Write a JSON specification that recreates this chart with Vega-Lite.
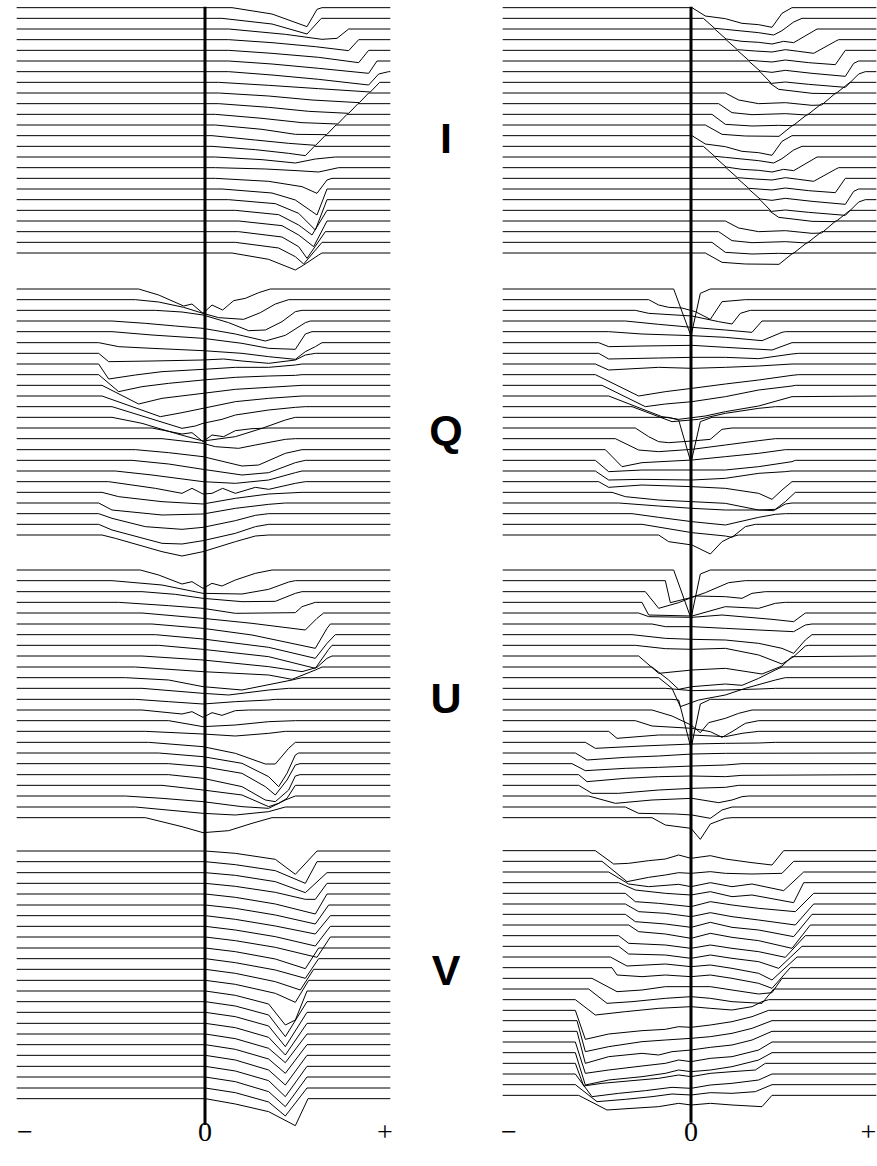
{
"$schema":"https://vega.github.io/schema/vega-lite/v6.json",
"padding":{"left":14,"top":0,"right":0,"bottom":0},
"spacing":113,
"bounds":"flush",
"background":"white",
"config":{"view":{"stroke":null}},
"datasets":{
"zero":[{"c":"L","x":0,"y":20,"y2":3375},{"c":"R","x":0,"y":20,"y2":3368}],
"ticks":[{"c":"L","t":"−","x":-540,"y":3398},{"c":"L","t":"0","x":0,"y":3398},{"c":"L","t":"+","x":540,"y":3398},{"c":"R","t":"−","x":-546,"y":3398},{"c":"R","t":"0","x":0,"y":3398},{"c":"R","t":"+","x":532,"y":3398}],
"stokes":[{"t":"I","x":723,"y":420},{"t":"Q","x":723,"y":1296},{"t":"U","x":723,"y":2100},{"t":"V","x":723,"y":2916}],
"prof":[
{"l":"LI0","x":-565,"y":23},{"l":"LI0","x":81,"y":23},{"l":"LI0","x":201,"y":42},{"l":"LI0","x":306,"y":80},{"l":"LI0","x":336,"y":28},{"l":"LI0","x":351,"y":23},{"l":"LI0","x":556,"y":23},
{"l":"LI1","x":-565,"y":55},{"l":"LI1","x":51,"y":55},{"l":"LI1","x":201,"y":72},{"l":"LI1","x":306,"y":102},{"l":"LI1","x":349,"y":55},{"l":"LI1","x":556,"y":55},
{"l":"LI2","x":-565,"y":87},{"l":"LI2","x":71,"y":87},{"l":"LI2","x":241,"y":103},{"l":"LI2","x":351,"y":118},{"l":"LI2","x":396,"y":115},{"l":"LI2","x":431,"y":87},{"l":"LI2","x":556,"y":87},
{"l":"LI3","x":-565,"y":119},{"l":"LI3","x":71,"y":119},{"l":"LI3","x":201,"y":128},{"l":"LI3","x":331,"y":140},{"l":"LI3","x":431,"y":152},{"l":"LI3","x":461,"y":119},{"l":"LI3","x":556,"y":119},
{"l":"LI4","x":-565,"y":151},{"l":"LI4","x":71,"y":151},{"l":"LI4","x":201,"y":160},{"l":"LI4","x":341,"y":172},{"l":"LI4","x":461,"y":188},{"l":"LI4","x":491,"y":151},{"l":"LI4","x":556,"y":151},
{"l":"LI5","x":-565,"y":183},{"l":"LI5","x":71,"y":183},{"l":"LI5","x":201,"y":192},{"l":"LI5","x":341,"y":205},{"l":"LI5","x":491,"y":220},{"l":"LI5","x":516,"y":183},{"l":"LI5","x":556,"y":183},
{"l":"LI6","x":-565,"y":215},{"l":"LI6","x":71,"y":215},{"l":"LI6","x":201,"y":225},{"l":"LI6","x":341,"y":238},{"l":"LI6","x":491,"y":255},{"l":"LI6","x":521,"y":222},{"l":"LI6","x":551,"y":215},{"l":"LI6","x":556,"y":215},
{"l":"LI7","x":-565,"y":247},{"l":"LI7","x":41,"y":247},{"l":"LI7","x":191,"y":256},{"l":"LI7","x":341,"y":266},{"l":"LI7","x":496,"y":276},{"l":"LI7","x":524,"y":247},{"l":"LI7","x":556,"y":247},
{"l":"LI8","x":-565,"y":279},{"l":"LI8","x":41,"y":279},{"l":"LI8","x":191,"y":288},{"l":"LI8","x":321,"y":300},{"l":"LI8","x":463,"y":308},{"l":"LI8","x":491,"y":279},{"l":"LI8","x":556,"y":279},
{"l":"LI9","x":-565,"y":311},{"l":"LI9","x":41,"y":311},{"l":"LI9","x":191,"y":322},{"l":"LI9","x":311,"y":334},{"l":"LI9","x":431,"y":340},{"l":"LI9","x":459,"y":311},{"l":"LI9","x":556,"y":311},
{"l":"LI10","x":-565,"y":343},{"l":"LI10","x":31,"y":343},{"l":"LI10","x":171,"y":355},{"l":"LI10","x":291,"y":368},{"l":"LI10","x":398,"y":372},{"l":"LI10","x":426,"y":343},{"l":"LI10","x":556,"y":343},
{"l":"LI11","x":-565,"y":375},{"l":"LI11","x":31,"y":375},{"l":"LI11","x":171,"y":388},{"l":"LI11","x":271,"y":403},{"l":"LI11","x":365,"y":404},{"l":"LI11","x":393,"y":375},{"l":"LI11","x":556,"y":375},
{"l":"LI12","x":-565,"y":407},{"l":"LI12","x":21,"y":407},{"l":"LI12","x":151,"y":420},{"l":"LI12","x":251,"y":430},{"l":"LI12","x":332,"y":436},{"l":"LI12","x":360,"y":407},{"l":"LI12","x":556,"y":407},
{"l":"LI13","x":-565,"y":439},{"l":"LI13","x":21,"y":439},{"l":"LI13","x":151,"y":449},{"l":"LI13","x":251,"y":460},{"l":"LI13","x":301,"y":467},{"l":"LI13","x":328,"y":439},{"l":"LI13","x":556,"y":439},
{"l":"LI14","x":-565,"y":471},{"l":"LI14","x":31,"y":471},{"l":"LI14","x":171,"y":479},{"l":"LI14","x":271,"y":489},{"l":"LI14","x":331,"y":477},{"l":"LI14","x":391,"y":471},{"l":"LI14","x":556,"y":471},
{"l":"LI15","x":-565,"y":503},{"l":"LI15","x":31,"y":503},{"l":"LI15","x":181,"y":507},{"l":"LI15","x":276,"y":512},{"l":"LI15","x":341,"y":516},{"l":"LI15","x":401,"y":503},{"l":"LI15","x":556,"y":503},
{"l":"LI16","x":-565,"y":535},{"l":"LI16","x":31,"y":535},{"l":"LI16","x":191,"y":544},{"l":"LI16","x":291,"y":560},{"l":"LI16","x":336,"y":580},{"l":"LI16","x":366,"y":540},{"l":"LI16","x":381,"y":535},{"l":"LI16","x":556,"y":535},
{"l":"LI17","x":-565,"y":567},{"l":"LI17","x":51,"y":567},{"l":"LI17","x":201,"y":579},{"l":"LI17","x":271,"y":600},{"l":"LI17","x":336,"y":645},{"l":"LI17","x":366,"y":567},{"l":"LI17","x":556,"y":567},
{"l":"LI18","x":-565,"y":599},{"l":"LI18","x":71,"y":599},{"l":"LI18","x":211,"y":611},{"l":"LI18","x":281,"y":640},{"l":"LI18","x":331,"y":690},{"l":"LI18","x":366,"y":599},{"l":"LI18","x":556,"y":599},
{"l":"LI19","x":-565,"y":631},{"l":"LI19","x":91,"y":631},{"l":"LI19","x":221,"y":644},{"l":"LI19","x":281,"y":675},{"l":"LI19","x":321,"y":705},{"l":"LI19","x":366,"y":631},{"l":"LI19","x":556,"y":631},
{"l":"LI20","x":-565,"y":663},{"l":"LI20","x":101,"y":663},{"l":"LI20","x":231,"y":677},{"l":"LI20","x":281,"y":705},{"l":"LI20","x":326,"y":740},{"l":"LI20","x":366,"y":663},{"l":"LI20","x":556,"y":663},
{"l":"LI21","x":-565,"y":695},{"l":"LI21","x":101,"y":695},{"l":"LI21","x":231,"y":711},{"l":"LI21","x":281,"y":740},{"l":"LI21","x":306,"y":775},{"l":"LI21","x":361,"y":695},{"l":"LI21","x":556,"y":695},
{"l":"LI22","x":-565,"y":727},{"l":"LI22","x":91,"y":727},{"l":"LI22","x":221,"y":744},{"l":"LI22","x":271,"y":770},{"l":"LI22","x":296,"y":792},{"l":"LI22","x":351,"y":727},{"l":"LI22","x":556,"y":727},
{"l":"LI23","x":-565,"y":759},{"l":"LI23","x":81,"y":759},{"l":"LI23","x":191,"y":778},{"l":"LI23","x":271,"y":810},{"l":"LI23","x":296,"y":795},{"l":"LI23","x":341,"y":765},{"l":"LI23","x":351,"y":759},{"l":"LI23","x":556,"y":759},

{"l":"RI0","x":-565,"y":23},{"l":"RI0","x":3,"y":23},{"l":"RI0","x":43,"y":48},{"l":"RI0","x":103,"y":56},{"l":"RI0","x":153,"y":70},{"l":"RI0","x":203,"y":74},{"l":"RI0","x":243,"y":82},{"l":"RI0","x":273,"y":40},{"l":"RI0","x":303,"y":23},{"l":"RI0","x":556,"y":23},
{"l":"RI1","x":-565,"y":55},{"l":"RI1","x":37,"y":55},{"l":"RI1","x":71,"y":85},{"l":"RI1","x":103,"y":88},{"l":"RI1","x":153,"y":93},{"l":"RI1","x":203,"y":98},{"l":"RI1","x":248,"y":105},{"l":"RI1","x":273,"y":92},{"l":"RI1","x":308,"y":66},{"l":"RI1","x":333,"y":55},{"l":"RI1","x":556,"y":55},
{"l":"RI2","x":-565,"y":87},{"l":"RI2","x":71,"y":87},{"l":"RI2","x":105,"y":117},{"l":"RI2","x":153,"y":124},{"l":"RI2","x":203,"y":127},{"l":"RI2","x":243,"y":132},{"l":"RI2","x":278,"y":124},{"l":"RI2","x":308,"y":128},{"l":"RI2","x":368,"y":93},{"l":"RI2","x":378,"y":87},{"l":"RI2","x":556,"y":87},
{"l":"RI3","x":-565,"y":119},{"l":"RI3","x":105,"y":119},{"l":"RI3","x":139,"y":149},{"l":"RI3","x":193,"y":153},{"l":"RI3","x":243,"y":156},{"l":"RI3","x":283,"y":149},{"l":"RI3","x":323,"y":154},{"l":"RI3","x":368,"y":160},{"l":"RI3","x":433,"y":124},{"l":"RI3","x":443,"y":119},{"l":"RI3","x":556,"y":119},
{"l":"RI4","x":-565,"y":151},{"l":"RI4","x":139,"y":151},{"l":"RI4","x":173,"y":181},{"l":"RI4","x":243,"y":186},{"l":"RI4","x":283,"y":180},{"l":"RI4","x":353,"y":188},{"l":"RI4","x":433,"y":194},{"l":"RI4","x":463,"y":151},{"l":"RI4","x":556,"y":151},
{"l":"RI5","x":-565,"y":183},{"l":"RI5","x":173,"y":183},{"l":"RI5","x":207,"y":213},{"l":"RI5","x":243,"y":217},{"l":"RI5","x":283,"y":211},{"l":"RI5","x":363,"y":220},{"l":"RI5","x":463,"y":229},{"l":"RI5","x":488,"y":190},{"l":"RI5","x":503,"y":183},{"l":"RI5","x":556,"y":183},
{"l":"RI6","x":-565,"y":215},{"l":"RI6","x":207,"y":215},{"l":"RI6","x":241,"y":250},{"l":"RI6","x":283,"y":246},{"l":"RI6","x":353,"y":253},{"l":"RI6","x":463,"y":262},{"l":"RI6","x":503,"y":222},{"l":"RI6","x":523,"y":215},{"l":"RI6","x":556,"y":215},
{"l":"RI7","x":-565,"y":247},{"l":"RI7","x":233,"y":247},{"l":"RI7","x":263,"y":268},{"l":"RI7","x":363,"y":280},{"l":"RI7","x":434,"y":281},{"l":"RI7","x":477,"y":247},{"l":"RI7","x":556,"y":247},
{"l":"RI8","x":-565,"y":279},{"l":"RI8","x":103,"y":279},{"l":"RI8","x":143,"y":300},{"l":"RI8","x":203,"y":311},{"l":"RI8","x":283,"y":308},{"l":"RI8","x":363,"y":316},{"l":"RI8","x":392,"y":315},{"l":"RI8","x":434,"y":279},{"l":"RI8","x":556,"y":279},
{"l":"RI9","x":-565,"y":311},{"l":"RI9","x":83,"y":311},{"l":"RI9","x":123,"y":338},{"l":"RI9","x":183,"y":344},{"l":"RI9","x":283,"y":341},{"l":"RI9","x":349,"y":345},{"l":"RI9","x":392,"y":311},{"l":"RI9","x":556,"y":311},
{"l":"RI10","x":-565,"y":343},{"l":"RI10","x":63,"y":343},{"l":"RI10","x":103,"y":373},{"l":"RI10","x":183,"y":378},{"l":"RI10","x":263,"y":376},{"l":"RI10","x":306,"y":377},{"l":"RI10","x":349,"y":343},{"l":"RI10","x":556,"y":343},
{"l":"RI11","x":-565,"y":375},{"l":"RI11","x":43,"y":375},{"l":"RI11","x":93,"y":403},{"l":"RI11","x":163,"y":408},{"l":"RI11","x":264,"y":409},{"l":"RI11","x":306,"y":375},{"l":"RI11","x":556,"y":375},
{"l":"RI12","x":-565,"y":407},{"l":"RI12","x":3,"y":407},{"l":"RI12","x":43,"y":432},{"l":"RI12","x":103,"y":440},{"l":"RI12","x":153,"y":454},{"l":"RI12","x":203,"y":458},{"l":"RI12","x":243,"y":466},{"l":"RI12","x":273,"y":424},{"l":"RI12","x":303,"y":407},{"l":"RI12","x":556,"y":407},
{"l":"RI13","x":-565,"y":439},{"l":"RI13","x":37,"y":439},{"l":"RI13","x":71,"y":469},{"l":"RI13","x":103,"y":472},{"l":"RI13","x":153,"y":477},{"l":"RI13","x":203,"y":482},{"l":"RI13","x":248,"y":489},{"l":"RI13","x":273,"y":476},{"l":"RI13","x":308,"y":450},{"l":"RI13","x":333,"y":439},{"l":"RI13","x":556,"y":439},
{"l":"RI14","x":-565,"y":471},{"l":"RI14","x":71,"y":471},{"l":"RI14","x":105,"y":501},{"l":"RI14","x":153,"y":508},{"l":"RI14","x":203,"y":511},{"l":"RI14","x":243,"y":516},{"l":"RI14","x":278,"y":508},{"l":"RI14","x":308,"y":512},{"l":"RI14","x":368,"y":477},{"l":"RI14","x":378,"y":471},{"l":"RI14","x":556,"y":471},
{"l":"RI15","x":-565,"y":503},{"l":"RI15","x":105,"y":503},{"l":"RI15","x":139,"y":533},{"l":"RI15","x":193,"y":537},{"l":"RI15","x":243,"y":540},{"l":"RI15","x":283,"y":533},{"l":"RI15","x":323,"y":538},{"l":"RI15","x":368,"y":544},{"l":"RI15","x":433,"y":508},{"l":"RI15","x":443,"y":503},{"l":"RI15","x":556,"y":503},
{"l":"RI16","x":-565,"y":535},{"l":"RI16","x":139,"y":535},{"l":"RI16","x":173,"y":565},{"l":"RI16","x":243,"y":570},{"l":"RI16","x":283,"y":564},{"l":"RI16","x":353,"y":572},{"l":"RI16","x":433,"y":578},{"l":"RI16","x":463,"y":535},{"l":"RI16","x":556,"y":535},
{"l":"RI17","x":-565,"y":567},{"l":"RI17","x":173,"y":567},{"l":"RI17","x":207,"y":597},{"l":"RI17","x":243,"y":601},{"l":"RI17","x":283,"y":595},{"l":"RI17","x":363,"y":604},{"l":"RI17","x":463,"y":613},{"l":"RI17","x":488,"y":574},{"l":"RI17","x":503,"y":567},{"l":"RI17","x":556,"y":567},
{"l":"RI18","x":-565,"y":599},{"l":"RI18","x":207,"y":599},{"l":"RI18","x":241,"y":634},{"l":"RI18","x":283,"y":630},{"l":"RI18","x":353,"y":637},{"l":"RI18","x":463,"y":646},{"l":"RI18","x":503,"y":606},{"l":"RI18","x":523,"y":599},{"l":"RI18","x":556,"y":599},
{"l":"RI19","x":-565,"y":631},{"l":"RI19","x":233,"y":631},{"l":"RI19","x":263,"y":652},{"l":"RI19","x":363,"y":664},{"l":"RI19","x":434,"y":665},{"l":"RI19","x":477,"y":631},{"l":"RI19","x":556,"y":631},
{"l":"RI20","x":-565,"y":663},{"l":"RI20","x":103,"y":663},{"l":"RI20","x":143,"y":684},{"l":"RI20","x":203,"y":695},{"l":"RI20","x":283,"y":692},{"l":"RI20","x":363,"y":700},{"l":"RI20","x":392,"y":699},{"l":"RI20","x":434,"y":663},{"l":"RI20","x":556,"y":663},
{"l":"RI21","x":-565,"y":695},{"l":"RI21","x":83,"y":695},{"l":"RI21","x":123,"y":722},{"l":"RI21","x":183,"y":728},{"l":"RI21","x":283,"y":725},{"l":"RI21","x":349,"y":729},{"l":"RI21","x":392,"y":695},{"l":"RI21","x":556,"y":695},
{"l":"RI22","x":-565,"y":727},{"l":"RI22","x":63,"y":727},{"l":"RI22","x":103,"y":757},{"l":"RI22","x":183,"y":762},{"l":"RI22","x":263,"y":760},{"l":"RI22","x":306,"y":761},{"l":"RI22","x":349,"y":727},{"l":"RI22","x":556,"y":727},
{"l":"RI23","x":-565,"y":759},{"l":"RI23","x":43,"y":759},{"l":"RI23","x":93,"y":787},{"l":"RI23","x":163,"y":792},{"l":"RI23","x":264,"y":793},{"l":"RI23","x":306,"y":759},{"l":"RI23","x":556,"y":759},

{"l":"LQ0","x":-565,"y":867},{"l":"LQ0","x":-199,"y":867},{"l":"LQ0","x":-139,"y":885},{"l":"LQ0","x":-64,"y":918},{"l":"LQ0","x":-39,"y":912},{"l":"LQ0","x":-6,"y":940},{"l":"LQ0","x":21,"y":915},{"l":"LQ0","x":53,"y":930},{"l":"LQ0","x":86,"y":902},{"l":"LQ0","x":121,"y":895},{"l":"LQ0","x":161,"y":878},{"l":"LQ0","x":196,"y":867},{"l":"LQ0","x":556,"y":867},
{"l":"LQ1","x":-565,"y":899},{"l":"LQ1","x":-209,"y":899},{"l":"LQ1","x":-139,"y":906},{"l":"LQ1","x":-64,"y":922},{"l":"LQ1","x":-6,"y":940},{"l":"LQ1","x":41,"y":953},{"l":"LQ1","x":116,"y":958},{"l":"LQ1","x":166,"y":938},{"l":"LQ1","x":211,"y":912},{"l":"LQ1","x":251,"y":899},{"l":"LQ1","x":556,"y":899},
{"l":"LQ2","x":-565,"y":931},{"l":"LQ2","x":-149,"y":931},{"l":"LQ2","x":-69,"y":936},{"l":"LQ2","x":-6,"y":945},{"l":"LQ2","x":71,"y":968},{"l":"LQ2","x":131,"y":992},{"l":"LQ2","x":181,"y":990},{"l":"LQ2","x":231,"y":965},{"l":"LQ2","x":271,"y":935},{"l":"LQ2","x":291,"y":931},{"l":"LQ2","x":556,"y":931},
{"l":"LQ3","x":-565,"y":963},{"l":"LQ3","x":-279,"y":963},{"l":"LQ3","x":-179,"y":970},{"l":"LQ3","x":-89,"y":978},{"l":"LQ3","x":-6,"y":985},{"l":"LQ3","x":91,"y":1002},{"l":"LQ3","x":181,"y":1023},{"l":"LQ3","x":241,"y":1006},{"l":"LQ3","x":301,"y":968},{"l":"LQ3","x":316,"y":963},{"l":"LQ3","x":556,"y":963},
{"l":"LQ4","x":-565,"y":995},{"l":"LQ4","x":-279,"y":995},{"l":"LQ4","x":-159,"y":1005},{"l":"LQ4","x":-6,"y":1015},{"l":"LQ4","x":111,"y":1030},{"l":"LQ4","x":191,"y":1045},{"l":"LQ4","x":271,"y":1048},{"l":"LQ4","x":301,"y":1002},{"l":"LQ4","x":321,"y":995},{"l":"LQ4","x":556,"y":995},
{"l":"LQ5","x":-565,"y":1028},{"l":"LQ5","x":-319,"y":1028},{"l":"LQ5","x":-259,"y":1040},{"l":"LQ5","x":-159,"y":1045},{"l":"LQ5","x":-6,"y":1052},{"l":"LQ5","x":111,"y":1060},{"l":"LQ5","x":191,"y":1070},{"l":"LQ5","x":271,"y":1078},{"l":"LQ5","x":301,"y":1055},{"l":"LQ5","x":331,"y":1040},{"l":"LQ5","x":351,"y":1028},{"l":"LQ5","x":556,"y":1028},
{"l":"LQ6","x":-565,"y":1060},{"l":"LQ6","x":-319,"y":1060},{"l":"LQ6","x":-289,"y":1085},{"l":"LQ6","x":-159,"y":1083},{"l":"LQ6","x":-9,"y":1080},{"l":"LQ6","x":56,"y":1077},{"l":"LQ6","x":111,"y":1083},{"l":"LQ6","x":191,"y":1090},{"l":"LQ6","x":271,"y":1080},{"l":"LQ6","x":301,"y":1065},{"l":"LQ6","x":331,"y":1060},{"l":"LQ6","x":556,"y":1060},
{"l":"LQ7","x":-565,"y":1092},{"l":"LQ7","x":-319,"y":1092},{"l":"LQ7","x":-289,"y":1137},{"l":"LQ7","x":-209,"y":1125},{"l":"LQ7","x":-129,"y":1115},{"l":"LQ7","x":-6,"y":1108},{"l":"LQ7","x":91,"y":1102},{"l":"LQ7","x":191,"y":1102},{"l":"LQ7","x":271,"y":1095},{"l":"LQ7","x":291,"y":1092},{"l":"LQ7","x":556,"y":1092},
{"l":"LQ8","x":-565,"y":1124},{"l":"LQ8","x":-319,"y":1124},{"l":"LQ8","x":-259,"y":1175},{"l":"LQ8","x":-189,"y":1160},{"l":"LQ8","x":-109,"y":1150},{"l":"LQ8","x":-6,"y":1140},{"l":"LQ8","x":91,"y":1132},{"l":"LQ8","x":191,"y":1128},{"l":"LQ8","x":271,"y":1126},{"l":"LQ8","x":291,"y":1124},{"l":"LQ8","x":556,"y":1124},
{"l":"LQ9","x":-565,"y":1156},{"l":"LQ9","x":-309,"y":1156},{"l":"LQ9","x":-199,"y":1212},{"l":"LQ9","x":-129,"y":1195},{"l":"LQ9","x":-6,"y":1180},{"l":"LQ9","x":91,"y":1168},{"l":"LQ9","x":191,"y":1162},{"l":"LQ9","x":291,"y":1156},{"l":"LQ9","x":556,"y":1156},
{"l":"LQ10","x":-565,"y":1188},{"l":"LQ10","x":-309,"y":1188},{"l":"LQ10","x":-134,"y":1250},{"l":"LQ10","x":-69,"y":1238},{"l":"LQ10","x":-6,"y":1225},{"l":"LQ10","x":91,"y":1205},{"l":"LQ10","x":191,"y":1195},{"l":"LQ10","x":291,"y":1188},{"l":"LQ10","x":556,"y":1188},
{"l":"LQ11","x":-565,"y":1220},{"l":"LQ11","x":-279,"y":1220},{"l":"LQ11","x":-69,"y":1285},{"l":"LQ11","x":-29,"y":1278},{"l":"LQ11","x":-6,"y":1270},{"l":"LQ11","x":51,"y":1258},{"l":"LQ11","x":91,"y":1245},{"l":"LQ11","x":191,"y":1230},{"l":"LQ11","x":271,"y":1222},{"l":"LQ11","x":301,"y":1220},{"l":"LQ11","x":556,"y":1220},
{"l":"LQ12","x":-565,"y":1252},{"l":"LQ12","x":-279,"y":1252},{"l":"LQ12","x":-189,"y":1270},{"l":"LQ12","x":-89,"y":1300},{"l":"LQ12","x":-6,"y":1323},{"l":"LQ12","x":91,"y":1310},{"l":"LQ12","x":171,"y":1285},{"l":"LQ12","x":241,"y":1260},{"l":"LQ12","x":271,"y":1252},{"l":"LQ12","x":556,"y":1252},
{"l":"LQ13","x":-565,"y":1284},{"l":"LQ13","x":-159,"y":1284},{"l":"LQ13","x":-69,"y":1302},{"l":"LQ13","x":-39,"y":1298},{"l":"LQ13","x":-6,"y":1325},{"l":"LQ13","x":21,"y":1305},{"l":"LQ13","x":56,"y":1310},{"l":"LQ13","x":91,"y":1292},{"l":"LQ13","x":141,"y":1286},{"l":"LQ13","x":191,"y":1284},{"l":"LQ13","x":556,"y":1284},
{"l":"LQ14","x":-565,"y":1316},{"l":"LQ14","x":-129,"y":1316},{"l":"LQ14","x":-6,"y":1330},{"l":"LQ14","x":31,"y":1340},{"l":"LQ14","x":101,"y":1345},{"l":"LQ14","x":151,"y":1335},{"l":"LQ14","x":241,"y":1318},{"l":"LQ14","x":271,"y":1316},{"l":"LQ14","x":556,"y":1316},
{"l":"LQ15","x":-565,"y":1349},{"l":"LQ15","x":-209,"y":1349},{"l":"LQ15","x":-109,"y":1358},{"l":"LQ15","x":-6,"y":1370},{"l":"LQ15","x":111,"y":1398},{"l":"LQ15","x":161,"y":1395},{"l":"LQ15","x":241,"y":1360},{"l":"LQ15","x":291,"y":1349},{"l":"LQ15","x":556,"y":1349},
{"l":"LQ16","x":-565,"y":1381},{"l":"LQ16","x":-219,"y":1381},{"l":"LQ16","x":-109,"y":1392},{"l":"LQ16","x":-6,"y":1408},{"l":"LQ16","x":111,"y":1425},{"l":"LQ16","x":191,"y":1418},{"l":"LQ16","x":271,"y":1388},{"l":"LQ16","x":301,"y":1381},{"l":"LQ16","x":556,"y":1381},
{"l":"LQ17","x":-565,"y":1413},{"l":"LQ17","x":-269,"y":1413},{"l":"LQ17","x":-159,"y":1425},{"l":"LQ17","x":-6,"y":1445},{"l":"LQ17","x":91,"y":1450},{"l":"LQ17","x":191,"y":1440},{"l":"LQ17","x":271,"y":1418},{"l":"LQ17","x":291,"y":1413},{"l":"LQ17","x":556,"y":1413},
{"l":"LQ18","x":-565,"y":1445},{"l":"LQ18","x":-289,"y":1445},{"l":"LQ18","x":-149,"y":1465},{"l":"LQ18","x":-69,"y":1480},{"l":"LQ18","x":-39,"y":1465},{"l":"LQ18","x":-6,"y":1482},{"l":"LQ18","x":21,"y":1480},{"l":"LQ18","x":53,"y":1465},{"l":"LQ18","x":91,"y":1480},{"l":"LQ18","x":151,"y":1462},{"l":"LQ18","x":191,"y":1468},{"l":"LQ18","x":271,"y":1450},{"l":"LQ18","x":301,"y":1445},{"l":"LQ18","x":556,"y":1445},
{"l":"LQ19","x":-565,"y":1477},{"l":"LQ19","x":-309,"y":1477},{"l":"LQ19","x":-259,"y":1490},{"l":"LQ19","x":-129,"y":1505},{"l":"LQ19","x":-6,"y":1512},{"l":"LQ19","x":91,"y":1495},{"l":"LQ19","x":191,"y":1482},{"l":"LQ19","x":291,"y":1477},{"l":"LQ19","x":556,"y":1477},
{"l":"LQ20","x":-565,"y":1509},{"l":"LQ20","x":-319,"y":1509},{"l":"LQ20","x":-279,"y":1530},{"l":"LQ20","x":-129,"y":1545},{"l":"LQ20","x":-6,"y":1542},{"l":"LQ20","x":91,"y":1525},{"l":"LQ20","x":191,"y":1513},{"l":"LQ20","x":241,"y":1509},{"l":"LQ20","x":556,"y":1509},
{"l":"LQ21","x":-565,"y":1541},{"l":"LQ21","x":-319,"y":1541},{"l":"LQ21","x":-279,"y":1555},{"l":"LQ21","x":-179,"y":1580},{"l":"LQ21","x":-69,"y":1588},{"l":"LQ21","x":-6,"y":1582},{"l":"LQ21","x":91,"y":1562},{"l":"LQ21","x":151,"y":1546},{"l":"LQ21","x":191,"y":1541},{"l":"LQ21","x":556,"y":1541},
{"l":"LQ22","x":-565,"y":1573},{"l":"LQ22","x":-319,"y":1573},{"l":"LQ22","x":-279,"y":1590},{"l":"LQ22","x":-129,"y":1630},{"l":"LQ22","x":-69,"y":1632},{"l":"LQ22","x":-6,"y":1622},{"l":"LQ22","x":91,"y":1600},{"l":"LQ22","x":151,"y":1580},{"l":"LQ22","x":191,"y":1573},{"l":"LQ22","x":556,"y":1573},
{"l":"LQ23","x":-565,"y":1605},{"l":"LQ23","x":-309,"y":1605},{"l":"LQ23","x":-269,"y":1615},{"l":"LQ23","x":-129,"y":1655},{"l":"LQ23","x":-69,"y":1668},{"l":"LQ23","x":-6,"y":1655},{"l":"LQ23","x":91,"y":1625},{"l":"LQ23","x":151,"y":1608},{"l":"LQ23","x":191,"y":1605},{"l":"LQ23","x":556,"y":1605},

{"l":"RQ0","x":-565,"y":867},{"l":"RQ0","x":-52,"y":867},{"l":"RQ0","x":0,"y":1008},{"l":"RQ0","x":28,"y":880},{"l":"RQ0","x":58,"y":867},{"l":"RQ0","x":556,"y":867},
{"l":"RQ1","x":-565,"y":899},{"l":"RQ1","x":-127,"y":899},{"l":"RQ1","x":-97,"y":915},{"l":"RQ1","x":-67,"y":922},{"l":"RQ1","x":-27,"y":924},{"l":"RQ1","x":13,"y":935},{"l":"RQ1","x":58,"y":958},{"l":"RQ1","x":93,"y":905},{"l":"RQ1","x":163,"y":899},{"l":"RQ1","x":556,"y":899},
{"l":"RQ2","x":-565,"y":931},{"l":"RQ2","x":-167,"y":931},{"l":"RQ2","x":-127,"y":940},{"l":"RQ2","x":3,"y":948},{"l":"RQ2","x":83,"y":965},{"l":"RQ2","x":123,"y":972},{"l":"RQ2","x":148,"y":940},{"l":"RQ2","x":178,"y":931},{"l":"RQ2","x":556,"y":931},
{"l":"RQ3","x":-565,"y":963},{"l":"RQ3","x":-197,"y":963},{"l":"RQ3","x":-97,"y":973},{"l":"RQ3","x":3,"y":982},{"l":"RQ3","x":103,"y":990},{"l":"RQ3","x":183,"y":997},{"l":"RQ3","x":213,"y":963},{"l":"RQ3","x":556,"y":963},
{"l":"RQ4","x":-565,"y":995},{"l":"RQ4","x":-247,"y":995},{"l":"RQ4","x":-147,"y":1002},{"l":"RQ4","x":3,"y":1007},{"l":"RQ4","x":103,"y":1012},{"l":"RQ4","x":213,"y":1022},{"l":"RQ4","x":273,"y":997},{"l":"RQ4","x":283,"y":995},{"l":"RQ4","x":556,"y":995},
{"l":"RQ5","x":-565,"y":1028},{"l":"RQ5","x":-277,"y":1028},{"l":"RQ5","x":-247,"y":1040},{"l":"RQ5","x":-147,"y":1038},{"l":"RQ5","x":3,"y":1036},{"l":"RQ5","x":103,"y":1042},{"l":"RQ5","x":243,"y":1050},{"l":"RQ5","x":303,"y":1028},{"l":"RQ5","x":556,"y":1028},
{"l":"RQ6","x":-565,"y":1060},{"l":"RQ6","x":-277,"y":1060},{"l":"RQ6","x":-247,"y":1077},{"l":"RQ6","x":-97,"y":1074},{"l":"RQ6","x":3,"y":1072},{"l":"RQ6","x":103,"y":1072},{"l":"RQ6","x":203,"y":1076},{"l":"RQ6","x":303,"y":1062},{"l":"RQ6","x":323,"y":1060},{"l":"RQ6","x":556,"y":1060},
{"l":"RQ7","x":-565,"y":1092},{"l":"RQ7","x":-287,"y":1092},{"l":"RQ7","x":-247,"y":1110},{"l":"RQ7","x":-97,"y":1102},{"l":"RQ7","x":3,"y":1105},{"l":"RQ7","x":103,"y":1102},{"l":"RQ7","x":203,"y":1098},{"l":"RQ7","x":303,"y":1092},{"l":"RQ7","x":556,"y":1092},
{"l":"RQ8","x":-565,"y":1124},{"l":"RQ8","x":-287,"y":1124},{"l":"RQ8","x":-157,"y":1188},{"l":"RQ8","x":-77,"y":1175},{"l":"RQ8","x":3,"y":1165},{"l":"RQ8","x":103,"y":1152},{"l":"RQ8","x":203,"y":1140},{"l":"RQ8","x":303,"y":1126},{"l":"RQ8","x":323,"y":1124},{"l":"RQ8","x":556,"y":1124},
{"l":"RQ9","x":-565,"y":1156},{"l":"RQ9","x":-267,"y":1156},{"l":"RQ9","x":-137,"y":1220},{"l":"RQ9","x":-77,"y":1212},{"l":"RQ9","x":3,"y":1205},{"l":"RQ9","x":103,"y":1190},{"l":"RQ9","x":203,"y":1170},{"l":"RQ9","x":303,"y":1158},{"l":"RQ9","x":313,"y":1156},{"l":"RQ9","x":556,"y":1156},
{"l":"RQ10","x":-565,"y":1188},{"l":"RQ10","x":-247,"y":1188},{"l":"RQ10","x":-87,"y":1250},{"l":"RQ10","x":-37,"y":1258},{"l":"RQ10","x":43,"y":1248},{"l":"RQ10","x":103,"y":1235},{"l":"RQ10","x":203,"y":1218},{"l":"RQ10","x":303,"y":1190},{"l":"RQ10","x":556,"y":1188},
{"l":"RQ11","x":-565,"y":1220},{"l":"RQ11","x":-177,"y":1220},{"l":"RQ11","x":-57,"y":1265},{"l":"RQ11","x":23,"y":1258},{"l":"RQ11","x":103,"y":1240},{"l":"RQ11","x":203,"y":1225},{"l":"RQ11","x":253,"y":1220},{"l":"RQ11","x":556,"y":1220},
{"l":"RQ12","x":-565,"y":1252},{"l":"RQ12","x":-67,"y":1252},{"l":"RQ12","x":-37,"y":1260},{"l":"RQ12","x":0,"y":1388},{"l":"RQ12","x":28,"y":1265},{"l":"RQ12","x":63,"y":1252},{"l":"RQ12","x":556,"y":1252},
{"l":"RQ13","x":-565,"y":1284},{"l":"RQ13","x":-167,"y":1284},{"l":"RQ13","x":-127,"y":1310},{"l":"RQ13","x":-97,"y":1325},{"l":"RQ13","x":-67,"y":1328},{"l":"RQ13","x":3,"y":1323},{"l":"RQ13","x":58,"y":1318},{"l":"RQ13","x":93,"y":1288},{"l":"RQ13","x":123,"y":1284},{"l":"RQ13","x":556,"y":1284},
{"l":"RQ14","x":-565,"y":1316},{"l":"RQ14","x":-227,"y":1316},{"l":"RQ14","x":-157,"y":1350},{"l":"RQ14","x":-97,"y":1355},{"l":"RQ14","x":3,"y":1348},{"l":"RQ14","x":103,"y":1335},{"l":"RQ14","x":203,"y":1322},{"l":"RQ14","x":253,"y":1316},{"l":"RQ14","x":556,"y":1316},
{"l":"RQ15","x":-565,"y":1349},{"l":"RQ15","x":-257,"y":1349},{"l":"RQ15","x":-207,"y":1400},{"l":"RQ15","x":-147,"y":1388},{"l":"RQ15","x":3,"y":1380},{"l":"RQ15","x":103,"y":1370},{"l":"RQ15","x":203,"y":1360},{"l":"RQ15","x":283,"y":1349},{"l":"RQ15","x":556,"y":1349},
{"l":"RQ16","x":-565,"y":1381},{"l":"RQ16","x":-287,"y":1381},{"l":"RQ16","x":-247,"y":1415},{"l":"RQ16","x":-147,"y":1410},{"l":"RQ16","x":3,"y":1410},{"l":"RQ16","x":103,"y":1410},{"l":"RQ16","x":203,"y":1400},{"l":"RQ16","x":303,"y":1385},{"l":"RQ16","x":313,"y":1381},{"l":"RQ16","x":556,"y":1381},
{"l":"RQ17","x":-565,"y":1413},{"l":"RQ17","x":-287,"y":1413},{"l":"RQ17","x":-247,"y":1440},{"l":"RQ17","x":-147,"y":1438},{"l":"RQ17","x":3,"y":1440},{"l":"RQ17","x":103,"y":1435},{"l":"RQ17","x":203,"y":1420},{"l":"RQ17","x":283,"y":1415},{"l":"RQ17","x":300,"y":1413},{"l":"RQ17","x":556,"y":1413},
{"l":"RQ18","x":-565,"y":1445},{"l":"RQ18","x":-277,"y":1445},{"l":"RQ18","x":-247,"y":1462},{"l":"RQ18","x":-147,"y":1455},{"l":"RQ18","x":3,"y":1460},{"l":"RQ18","x":103,"y":1465},{"l":"RQ18","x":203,"y":1480},{"l":"RQ18","x":243,"y":1498},{"l":"RQ18","x":273,"y":1470},{"l":"RQ18","x":303,"y":1445},{"l":"RQ18","x":556,"y":1445},
{"l":"RQ19","x":-565,"y":1477},{"l":"RQ19","x":-237,"y":1477},{"l":"RQ19","x":-197,"y":1490},{"l":"RQ19","x":-97,"y":1500},{"l":"RQ19","x":3,"y":1505},{"l":"RQ19","x":103,"y":1510},{"l":"RQ19","x":203,"y":1530},{"l":"RQ19","x":253,"y":1528},{"l":"RQ19","x":283,"y":1505},{"l":"RQ19","x":313,"y":1477},{"l":"RQ19","x":556,"y":1477},
{"l":"RQ20","x":-565,"y":1509},{"l":"RQ20","x":-217,"y":1509},{"l":"RQ20","x":-97,"y":1518},{"l":"RQ20","x":3,"y":1525},{"l":"RQ20","x":103,"y":1530},{"l":"RQ20","x":203,"y":1530},{"l":"RQ20","x":248,"y":1532},{"l":"RQ20","x":283,"y":1512},{"l":"RQ20","x":303,"y":1509},{"l":"RQ20","x":556,"y":1509},
{"l":"RQ21","x":-565,"y":1541},{"l":"RQ21","x":-177,"y":1541},{"l":"RQ21","x":-97,"y":1552},{"l":"RQ21","x":3,"y":1565},{"l":"RQ21","x":103,"y":1575},{"l":"RQ21","x":203,"y":1552},{"l":"RQ21","x":253,"y":1543},{"l":"RQ21","x":283,"y":1541},{"l":"RQ21","x":556,"y":1541},
{"l":"RQ22","x":-565,"y":1573},{"l":"RQ22","x":-147,"y":1573},{"l":"RQ22","x":3,"y":1598},{"l":"RQ22","x":103,"y":1608},{"l":"RQ22","x":123,"y":1612},{"l":"RQ22","x":163,"y":1580},{"l":"RQ22","x":193,"y":1573},{"l":"RQ22","x":556,"y":1573},
{"l":"RQ23","x":-565,"y":1605},{"l":"RQ23","x":-97,"y":1605},{"l":"RQ23","x":-67,"y":1625},{"l":"RQ23","x":3,"y":1635},{"l":"RQ23","x":58,"y":1662},{"l":"RQ23","x":93,"y":1625},{"l":"RQ23","x":123,"y":1610},{"l":"RQ23","x":143,"y":1605},{"l":"RQ23","x":556,"y":1605},

{"l":"LU0","x":-565,"y":1710},{"l":"LU0","x":-194,"y":1710},{"l":"LU0","x":-139,"y":1725},{"l":"LU0","x":-69,"y":1752},{"l":"LU0","x":-39,"y":1745},{"l":"LU0","x":-6,"y":1765},{"l":"LU0","x":21,"y":1750},{"l":"LU0","x":51,"y":1758},{"l":"LU0","x":91,"y":1740},{"l":"LU0","x":151,"y":1720},{"l":"LU0","x":201,"y":1710},{"l":"LU0","x":556,"y":1710},
{"l":"LU1","x":-565,"y":1742},{"l":"LU1","x":-279,"y":1742},{"l":"LU1","x":-129,"y":1755},{"l":"LU1","x":-6,"y":1780},{"l":"LU1","x":111,"y":1782},{"l":"LU1","x":191,"y":1768},{"l":"LU1","x":251,"y":1746},{"l":"LU1","x":271,"y":1742},{"l":"LU1","x":556,"y":1742},
{"l":"LU2","x":-565,"y":1775},{"l":"LU2","x":-189,"y":1775},{"l":"LU2","x":-89,"y":1783},{"l":"LU2","x":-6,"y":1795},{"l":"LU2","x":111,"y":1805},{"l":"LU2","x":211,"y":1804},{"l":"LU2","x":271,"y":1780},{"l":"LU2","x":291,"y":1775},{"l":"LU2","x":556,"y":1775},
{"l":"LU3","x":-565,"y":1807},{"l":"LU3","x":-259,"y":1807},{"l":"LU3","x":-109,"y":1817},{"l":"LU3","x":-6,"y":1825},{"l":"LU3","x":91,"y":1840},{"l":"LU3","x":271,"y":1838},{"l":"LU3","x":291,"y":1820},{"l":"LU3","x":331,"y":1807},{"l":"LU3","x":556,"y":1807},
{"l":"LU4","x":-565,"y":1839},{"l":"LU4","x":-189,"y":1839},{"l":"LU4","x":-6,"y":1855},{"l":"LU4","x":141,"y":1870},{"l":"LU4","x":301,"y":1890},{"l":"LU4","x":336,"y":1855},{"l":"LU4","x":356,"y":1839},{"l":"LU4","x":556,"y":1839},
{"l":"LU5","x":-565,"y":1872},{"l":"LU5","x":-159,"y":1872},{"l":"LU5","x":-6,"y":1885},{"l":"LU5","x":141,"y":1905},{"l":"LU5","x":331,"y":1945},{"l":"LU5","x":366,"y":1885},{"l":"LU5","x":376,"y":1872},{"l":"LU5","x":556,"y":1872},
{"l":"LU6","x":-565,"y":1904},{"l":"LU6","x":-149,"y":1904},{"l":"LU6","x":-6,"y":1917},{"l":"LU6","x":191,"y":1942},{"l":"LU6","x":331,"y":1975},{"l":"LU6","x":366,"y":1930},{"l":"LU6","x":391,"y":1904},{"l":"LU6","x":556,"y":1904},
{"l":"LU7","x":-565,"y":1936},{"l":"LU7","x":-139,"y":1936},{"l":"LU7","x":-6,"y":1948},{"l":"LU7","x":191,"y":1970},{"l":"LU7","x":331,"y":2005},{"l":"LU7","x":371,"y":1948},{"l":"LU7","x":381,"y":1936},{"l":"LU7","x":556,"y":1936},
{"l":"LU8","x":-565,"y":1968},{"l":"LU8","x":-189,"y":1968},{"l":"LU8","x":-6,"y":1980},{"l":"LU8","x":191,"y":2000},{"l":"LU8","x":291,"y":2015},{"l":"LU8","x":336,"y":2002},{"l":"LU8","x":366,"y":1975},{"l":"LU8","x":381,"y":1968},{"l":"LU8","x":556,"y":1968},
{"l":"LU9","x":-565,"y":2001},{"l":"LU9","x":-209,"y":2001},{"l":"LU9","x":-6,"y":2015},{"l":"LU9","x":191,"y":2025},{"l":"LU9","x":261,"y":2038},{"l":"LU9","x":331,"y":2010},{"l":"LU9","x":351,"y":2001},{"l":"LU9","x":556,"y":2001},
{"l":"LU10","x":-565,"y":2033},{"l":"LU10","x":-239,"y":2033},{"l":"LU10","x":-109,"y":2040},{"l":"LU10","x":-6,"y":2060},{"l":"LU10","x":111,"y":2070},{"l":"LU10","x":261,"y":2040},{"l":"LU10","x":291,"y":2033},{"l":"LU10","x":556,"y":2033},
{"l":"LU11","x":-565,"y":2065},{"l":"LU11","x":-189,"y":2065},{"l":"LU11","x":-6,"y":2080},{"l":"LU11","x":71,"y":2085},{"l":"LU11","x":191,"y":2070},{"l":"LU11","x":251,"y":2065},{"l":"LU11","x":556,"y":2065},
{"l":"LU12","x":-565,"y":2098},{"l":"LU12","x":-209,"y":2098},{"l":"LU12","x":-109,"y":2105},{"l":"LU12","x":-6,"y":2112},{"l":"LU12","x":91,"y":2105},{"l":"LU12","x":191,"y":2100},{"l":"LU12","x":211,"y":2098},{"l":"LU12","x":556,"y":2098},
{"l":"LU13","x":-565,"y":2130},{"l":"LU13","x":-189,"y":2130},{"l":"LU13","x":-69,"y":2142},{"l":"LU13","x":-39,"y":2135},{"l":"LU13","x":-6,"y":2152},{"l":"LU13","x":21,"y":2138},{"l":"LU13","x":51,"y":2146},{"l":"LU13","x":91,"y":2132},{"l":"LU13","x":131,"y":2130},{"l":"LU13","x":556,"y":2130},
{"l":"LU14","x":-565,"y":2162},{"l":"LU14","x":-109,"y":2162},{"l":"LU14","x":-6,"y":2180},{"l":"LU14","x":91,"y":2175},{"l":"LU14","x":191,"y":2165},{"l":"LU14","x":271,"y":2162},{"l":"LU14","x":556,"y":2162},
{"l":"LU15","x":-565,"y":2194},{"l":"LU15","x":-179,"y":2194},{"l":"LU15","x":-6,"y":2202},{"l":"LU15","x":91,"y":2208},{"l":"LU15","x":191,"y":2200},{"l":"LU15","x":241,"y":2194},{"l":"LU15","x":556,"y":2194},
{"l":"LU16","x":-565,"y":2227},{"l":"LU16","x":-169,"y":2227},{"l":"LU16","x":-6,"y":2240},{"l":"LU16","x":91,"y":2260},{"l":"LU16","x":181,"y":2292},{"l":"LU16","x":211,"y":2292},{"l":"LU16","x":251,"y":2245},{"l":"LU16","x":271,"y":2227},{"l":"LU16","x":556,"y":2227},
{"l":"LU17","x":-565,"y":2259},{"l":"LU17","x":-139,"y":2259},{"l":"LU17","x":-6,"y":2270},{"l":"LU17","x":111,"y":2290},{"l":"LU17","x":191,"y":2330},{"l":"LU17","x":221,"y":2360},{"l":"LU17","x":246,"y":2320},{"l":"LU17","x":271,"y":2265},{"l":"LU17","x":281,"y":2259},{"l":"LU17","x":556,"y":2259},
{"l":"LU18","x":-565,"y":2291},{"l":"LU18","x":-109,"y":2291},{"l":"LU18","x":-6,"y":2300},{"l":"LU18","x":111,"y":2320},{"l":"LU18","x":181,"y":2360},{"l":"LU18","x":211,"y":2385},{"l":"LU18","x":246,"y":2340},{"l":"LU18","x":271,"y":2295},{"l":"LU18","x":285,"y":2291},{"l":"LU18","x":556,"y":2291},
{"l":"LU19","x":-565,"y":2324},{"l":"LU19","x":-109,"y":2324},{"l":"LU19","x":-6,"y":2335},{"l":"LU19","x":111,"y":2360},{"l":"LU19","x":181,"y":2400},{"l":"LU19","x":211,"y":2405},{"l":"LU19","x":251,"y":2370},{"l":"LU19","x":271,"y":2328},{"l":"LU19","x":285,"y":2324},{"l":"LU19","x":556,"y":2324},
{"l":"LU20","x":-565,"y":2356},{"l":"LU20","x":-129,"y":2356},{"l":"LU20","x":-6,"y":2370},{"l":"LU20","x":111,"y":2385},{"l":"LU20","x":191,"y":2420},{"l":"LU20","x":221,"y":2410},{"l":"LU20","x":246,"y":2395},{"l":"LU20","x":271,"y":2356},{"l":"LU20","x":556,"y":2356},
{"l":"LU21","x":-565,"y":2388},{"l":"LU21","x":-239,"y":2388},{"l":"LU21","x":-129,"y":2395},{"l":"LU21","x":-6,"y":2405},{"l":"LU21","x":111,"y":2420},{"l":"LU21","x":191,"y":2425},{"l":"LU21","x":241,"y":2400},{"l":"LU21","x":271,"y":2388},{"l":"LU21","x":556,"y":2388},
{"l":"LU22","x":-565,"y":2421},{"l":"LU22","x":-209,"y":2421},{"l":"LU22","x":-6,"y":2440},{"l":"LU22","x":91,"y":2445},{"l":"LU22","x":191,"y":2435},{"l":"LU22","x":241,"y":2421},{"l":"LU22","x":556,"y":2421},
{"l":"LU23","x":-565,"y":2453},{"l":"LU23","x":-179,"y":2453},{"l":"LU23","x":-69,"y":2480},{"l":"LU23","x":-6,"y":2498},{"l":"LU23","x":71,"y":2492},{"l":"LU23","x":141,"y":2470},{"l":"LU23","x":201,"y":2453},{"l":"LU23","x":556,"y":2453},

{"l":"RU0","x":-565,"y":1710},{"l":"RU0","x":-52,"y":1710},{"l":"RU0","x":0,"y":1855},{"l":"RU0","x":28,"y":1722},{"l":"RU0","x":58,"y":1710},{"l":"RU0","x":556,"y":1710},
{"l":"RU1","x":-565,"y":1742},{"l":"RU1","x":-77,"y":1742},{"l":"RU1","x":-62,"y":1808},{"l":"RU1","x":3,"y":1792},{"l":"RU1","x":43,"y":1778},{"l":"RU1","x":113,"y":1748},{"l":"RU1","x":163,"y":1742},{"l":"RU1","x":556,"y":1742},
{"l":"RU2","x":-565,"y":1775},{"l":"RU2","x":-137,"y":1775},{"l":"RU2","x":-97,"y":1825},{"l":"RU2","x":-37,"y":1808},{"l":"RU2","x":13,"y":1788},{"l":"RU2","x":103,"y":1790},{"l":"RU2","x":153,"y":1795},{"l":"RU2","x":183,"y":1780},{"l":"RU2","x":223,"y":1775},{"l":"RU2","x":556,"y":1775},
{"l":"RU3","x":-565,"y":1807},{"l":"RU3","x":-147,"y":1807},{"l":"RU3","x":-127,"y":1845},{"l":"RU3","x":3,"y":1848},{"l":"RU3","x":103,"y":1820},{"l":"RU3","x":203,"y":1825},{"l":"RU3","x":253,"y":1810},{"l":"RU3","x":283,"y":1807},{"l":"RU3","x":556,"y":1807},
{"l":"RU4","x":-565,"y":1839},{"l":"RU4","x":-157,"y":1839},{"l":"RU4","x":-127,"y":1850},{"l":"RU4","x":3,"y":1852},{"l":"RU4","x":93,"y":1845},{"l":"RU4","x":243,"y":1858},{"l":"RU4","x":308,"y":1865},{"l":"RU4","x":343,"y":1839},{"l":"RU4","x":556,"y":1839},
{"l":"RU5","x":-565,"y":1872},{"l":"RU5","x":-117,"y":1872},{"l":"RU5","x":-77,"y":1880},{"l":"RU5","x":3,"y":1880},{"l":"RU5","x":103,"y":1885},{"l":"RU5","x":203,"y":1890},{"l":"RU5","x":308,"y":1895},{"l":"RU5","x":343,"y":1875},{"l":"RU5","x":363,"y":1872},{"l":"RU5","x":556,"y":1872},
{"l":"RU6","x":-565,"y":1904},{"l":"RU6","x":-177,"y":1904},{"l":"RU6","x":-77,"y":1915},{"l":"RU6","x":3,"y":1918},{"l":"RU6","x":103,"y":1920},{"l":"RU6","x":203,"y":1930},{"l":"RU6","x":273,"y":1945},{"l":"RU6","x":308,"y":1960},{"l":"RU6","x":343,"y":1920},{"l":"RU6","x":363,"y":1904},{"l":"RU6","x":556,"y":1904},
{"l":"RU7","x":-565,"y":1936},{"l":"RU7","x":-167,"y":1936},{"l":"RU7","x":-77,"y":1946},{"l":"RU7","x":3,"y":1948},{"l":"RU7","x":103,"y":1945},{"l":"RU7","x":203,"y":1965},{"l":"RU7","x":273,"y":1992},{"l":"RU7","x":308,"y":1970},{"l":"RU7","x":343,"y":1938},{"l":"RU7","x":353,"y":1936},{"l":"RU7","x":556,"y":1936},
{"l":"RU8","x":-565,"y":1968},{"l":"RU8","x":-157,"y":1968},{"l":"RU8","x":-97,"y":2020},{"l":"RU8","x":3,"y":2010},{"l":"RU8","x":103,"y":2005},{"l":"RU8","x":213,"y":2022},{"l":"RU8","x":273,"y":1998},{"l":"RU8","x":303,"y":1970},{"l":"RU8","x":556,"y":1968},
{"l":"RU9","x":-565,"y":2001},{"l":"RU9","x":-117,"y":2001},{"l":"RU9","x":-67,"y":2040},{"l":"RU9","x":-37,"y":2068},{"l":"RU9","x":3,"y":2060},{"l":"RU9","x":103,"y":2052},{"l":"RU9","x":153,"y":2056},{"l":"RU9","x":203,"y":2035},{"l":"RU9","x":253,"y":2010},{"l":"RU9","x":273,"y":2001},{"l":"RU9","x":556,"y":2001},
{"l":"RU10","x":-565,"y":2033},{"l":"RU10","x":-97,"y":2033},{"l":"RU10","x":-57,"y":2065},{"l":"RU10","x":-32,"y":2120},{"l":"RU10","x":23,"y":2100},{"l":"RU10","x":103,"y":2085},{"l":"RU10","x":163,"y":2065},{"l":"RU10","x":253,"y":2040},{"l":"RU10","x":283,"y":2033},{"l":"RU10","x":556,"y":2033},
{"l":"RU11","x":-565,"y":2065},{"l":"RU11","x":-77,"y":2065},{"l":"RU11","x":3,"y":2072},{"l":"RU11","x":103,"y":2070},{"l":"RU11","x":203,"y":2067},{"l":"RU11","x":253,"y":2065},{"l":"RU11","x":556,"y":2065},
{"l":"RU12","x":-565,"y":2098},{"l":"RU12","x":-57,"y":2098},{"l":"RU12","x":-37,"y":2100},{"l":"RU12","x":0,"y":2245},{"l":"RU12","x":28,"y":2112},{"l":"RU12","x":58,"y":2098},{"l":"RU12","x":556,"y":2098},
{"l":"RU13","x":-565,"y":2130},{"l":"RU13","x":-117,"y":2130},{"l":"RU13","x":-57,"y":2148},{"l":"RU13","x":0,"y":2175},{"l":"RU13","x":28,"y":2198},{"l":"RU13","x":53,"y":2168},{"l":"RU13","x":103,"y":2155},{"l":"RU13","x":143,"y":2140},{"l":"RU13","x":183,"y":2130},{"l":"RU13","x":556,"y":2130},
{"l":"RU14","x":-565,"y":2162},{"l":"RU14","x":-167,"y":2162},{"l":"RU14","x":-117,"y":2178},{"l":"RU14","x":3,"y":2185},{"l":"RU14","x":58,"y":2195},{"l":"RU14","x":93,"y":2212},{"l":"RU14","x":123,"y":2195},{"l":"RU14","x":163,"y":2170},{"l":"RU14","x":203,"y":2162},{"l":"RU14","x":556,"y":2162},
{"l":"RU15","x":-565,"y":2194},{"l":"RU15","x":-247,"y":2194},{"l":"RU15","x":-222,"y":2215},{"l":"RU15","x":-97,"y":2205},{"l":"RU15","x":3,"y":2205},{"l":"RU15","x":103,"y":2210},{"l":"RU15","x":153,"y":2200},{"l":"RU15","x":203,"y":2194},{"l":"RU15","x":556,"y":2194},
{"l":"RU16","x":-565,"y":2227},{"l":"RU16","x":-317,"y":2227},{"l":"RU16","x":-287,"y":2245},{"l":"RU16","x":-147,"y":2238},{"l":"RU16","x":3,"y":2232},{"l":"RU16","x":103,"y":2230},{"l":"RU16","x":203,"y":2229},{"l":"RU16","x":253,"y":2227},{"l":"RU16","x":556,"y":2227},
{"l":"RU17","x":-565,"y":2259},{"l":"RU17","x":-347,"y":2259},{"l":"RU17","x":-312,"y":2280},{"l":"RU17","x":-197,"y":2272},{"l":"RU17","x":-97,"y":2268},{"l":"RU17","x":3,"y":2262},{"l":"RU17","x":103,"y":2260},{"l":"RU17","x":556,"y":2259},
{"l":"RU18","x":-565,"y":2291},{"l":"RU18","x":-357,"y":2291},{"l":"RU18","x":-317,"y":2312},{"l":"RU18","x":-197,"y":2305},{"l":"RU18","x":-97,"y":2302},{"l":"RU18","x":3,"y":2298},{"l":"RU18","x":103,"y":2295},{"l":"RU18","x":153,"y":2291},{"l":"RU18","x":556,"y":2291},
{"l":"RU19","x":-565,"y":2324},{"l":"RU19","x":-337,"y":2324},{"l":"RU19","x":-312,"y":2345},{"l":"RU19","x":-197,"y":2335},{"l":"RU19","x":-97,"y":2330},{"l":"RU19","x":3,"y":2328},{"l":"RU19","x":103,"y":2330},{"l":"RU19","x":153,"y":2326},{"l":"RU19","x":556,"y":2324},
{"l":"RU20","x":-565,"y":2356},{"l":"RU20","x":-337,"y":2356},{"l":"RU20","x":-297,"y":2380},{"l":"RU20","x":-217,"y":2380},{"l":"RU20","x":-97,"y":2370},{"l":"RU20","x":3,"y":2365},{"l":"RU20","x":103,"y":2362},{"l":"RU20","x":143,"y":2356},{"l":"RU20","x":556,"y":2356},
{"l":"RU21","x":-565,"y":2388},{"l":"RU21","x":-307,"y":2388},{"l":"RU21","x":-227,"y":2410},{"l":"RU21","x":-117,"y":2400},{"l":"RU21","x":3,"y":2395},{"l":"RU21","x":83,"y":2408},{"l":"RU21","x":123,"y":2400},{"l":"RU21","x":153,"y":2390},{"l":"RU21","x":173,"y":2388},{"l":"RU21","x":556,"y":2388},
{"l":"RU22","x":-565,"y":2421},{"l":"RU22","x":-197,"y":2421},{"l":"RU22","x":-157,"y":2440},{"l":"RU22","x":-47,"y":2442},{"l":"RU22","x":3,"y":2445},{"l":"RU22","x":58,"y":2455},{"l":"RU22","x":93,"y":2430},{"l":"RU22","x":123,"y":2421},{"l":"RU22","x":556,"y":2421},
{"l":"RU23","x":-565,"y":2453},{"l":"RU23","x":-117,"y":2453},{"l":"RU23","x":-77,"y":2475},{"l":"RU23","x":0,"y":2485},{"l":"RU23","x":28,"y":2518},{"l":"RU23","x":58,"y":2472},{"l":"RU23","x":103,"y":2455},{"l":"RU23","x":123,"y":2453},{"l":"RU23","x":556,"y":2453},

{"l":"LV0","x":-565,"y":2553},{"l":"LV0","x":1,"y":2553},{"l":"LV0","x":91,"y":2560},{"l":"LV0","x":211,"y":2578},{"l":"LV0","x":271,"y":2623},{"l":"LV0","x":336,"y":2553},{"l":"LV0","x":556,"y":2553},
{"l":"LV1","x":-565,"y":2585},{"l":"LV1","x":1,"y":2585},{"l":"LV1","x":91,"y":2594},{"l":"LV1","x":211,"y":2612},{"l":"LV1","x":301,"y":2650},{"l":"LV1","x":336,"y":2585},{"l":"LV1","x":556,"y":2585},
{"l":"LV2","x":-565,"y":2618},{"l":"LV2","x":1,"y":2618},{"l":"LV2","x":91,"y":2626},{"l":"LV2","x":211,"y":2645},{"l":"LV2","x":301,"y":2678},{"l":"LV2","x":366,"y":2618},{"l":"LV2","x":556,"y":2618},
{"l":"LV3","x":-565,"y":2650},{"l":"LV3","x":1,"y":2650},{"l":"LV3","x":91,"y":2659},{"l":"LV3","x":211,"y":2677},{"l":"LV3","x":301,"y":2698},{"l":"LV3","x":331,"y":2698},{"l":"LV3","x":366,"y":2650},{"l":"LV3","x":556,"y":2650},
{"l":"LV4","x":-565,"y":2682},{"l":"LV4","x":1,"y":2682},{"l":"LV4","x":91,"y":2692},{"l":"LV4","x":211,"y":2712},{"l":"LV4","x":331,"y":2742},{"l":"LV4","x":366,"y":2682},{"l":"LV4","x":556,"y":2682},
{"l":"LV5","x":-565,"y":2715},{"l":"LV5","x":1,"y":2715},{"l":"LV5","x":91,"y":2725},{"l":"LV5","x":211,"y":2745},{"l":"LV5","x":331,"y":2772},{"l":"LV5","x":371,"y":2715},{"l":"LV5","x":556,"y":2715},
{"l":"LV6","x":-565,"y":2747},{"l":"LV6","x":1,"y":2747},{"l":"LV6","x":91,"y":2758},{"l":"LV6","x":211,"y":2778},{"l":"LV6","x":331,"y":2802},{"l":"LV6","x":376,"y":2747},{"l":"LV6","x":556,"y":2747},
{"l":"LV7","x":-565,"y":2779},{"l":"LV7","x":1,"y":2779},{"l":"LV7","x":91,"y":2790},{"l":"LV7","x":211,"y":2810},{"l":"LV7","x":331,"y":2838},{"l":"LV7","x":376,"y":2779},{"l":"LV7","x":556,"y":2779},
{"l":"LV8","x":-565,"y":2811},{"l":"LV8","x":1,"y":2811},{"l":"LV8","x":91,"y":2822},{"l":"LV8","x":211,"y":2842},{"l":"LV8","x":336,"y":2872},{"l":"LV8","x":376,"y":2811},{"l":"LV8","x":556,"y":2811},
{"l":"LV9","x":-565,"y":2844},{"l":"LV9","x":1,"y":2844},{"l":"LV9","x":91,"y":2855},{"l":"LV9","x":211,"y":2877},{"l":"LV9","x":301,"y":2906},{"l":"LV9","x":341,"y":2844},{"l":"LV9","x":556,"y":2844},
{"l":"LV10","x":-565,"y":2876},{"l":"LV10","x":1,"y":2876},{"l":"LV10","x":91,"y":2888},{"l":"LV10","x":211,"y":2910},{"l":"LV10","x":301,"y":2935},{"l":"LV10","x":341,"y":2876},{"l":"LV10","x":556,"y":2876},
{"l":"LV11","x":-565,"y":2908},{"l":"LV11","x":1,"y":2908},{"l":"LV11","x":91,"y":2920},{"l":"LV11","x":211,"y":2945},{"l":"LV11","x":286,"y":2970},{"l":"LV11","x":326,"y":2908},{"l":"LV11","x":556,"y":2908},
{"l":"LV12","x":-565,"y":2941},{"l":"LV12","x":1,"y":2941},{"l":"LV12","x":91,"y":2953},{"l":"LV12","x":211,"y":2980},{"l":"LV12","x":271,"y":3007},{"l":"LV12","x":311,"y":2941},{"l":"LV12","x":556,"y":2941},
{"l":"LV13","x":-565,"y":2973},{"l":"LV13","x":1,"y":2973},{"l":"LV13","x":91,"y":2986},{"l":"LV13","x":191,"y":3012},{"l":"LV13","x":241,"y":3075},{"l":"LV13","x":271,"y":3060},{"l":"LV13","x":306,"y":2973},{"l":"LV13","x":556,"y":2973},
{"l":"LV14","x":-565,"y":3005},{"l":"LV14","x":1,"y":3005},{"l":"LV14","x":91,"y":3018},{"l":"LV14","x":191,"y":3045},{"l":"LV14","x":241,"y":3110},{"l":"LV14","x":306,"y":3005},{"l":"LV14","x":556,"y":3005},
{"l":"LV15","x":-565,"y":3037},{"l":"LV15","x":1,"y":3037},{"l":"LV15","x":91,"y":3050},{"l":"LV15","x":191,"y":3078},{"l":"LV15","x":241,"y":3140},{"l":"LV15","x":306,"y":3037},{"l":"LV15","x":556,"y":3037},
{"l":"LV16","x":-565,"y":3070},{"l":"LV16","x":1,"y":3070},{"l":"LV16","x":91,"y":3083},{"l":"LV16","x":191,"y":3112},{"l":"LV16","x":241,"y":3165},{"l":"LV16","x":306,"y":3070},{"l":"LV16","x":556,"y":3070},
{"l":"LV17","x":-565,"y":3102},{"l":"LV17","x":1,"y":3102},{"l":"LV17","x":91,"y":3116},{"l":"LV17","x":191,"y":3145},{"l":"LV17","x":241,"y":3188},{"l":"LV17","x":306,"y":3102},{"l":"LV17","x":556,"y":3102},
{"l":"LV18","x":-565,"y":3134},{"l":"LV18","x":1,"y":3134},{"l":"LV18","x":91,"y":3148},{"l":"LV18","x":191,"y":3177},{"l":"LV18","x":241,"y":3220},{"l":"LV18","x":306,"y":3134},{"l":"LV18","x":556,"y":3134},
{"l":"LV19","x":-565,"y":3166},{"l":"LV19","x":1,"y":3166},{"l":"LV19","x":91,"y":3180},{"l":"LV19","x":191,"y":3210},{"l":"LV19","x":241,"y":3255},{"l":"LV19","x":306,"y":3166},{"l":"LV19","x":556,"y":3166},
{"l":"LV20","x":-565,"y":3199},{"l":"LV20","x":1,"y":3199},{"l":"LV20","x":91,"y":3213},{"l":"LV20","x":191,"y":3242},{"l":"LV20","x":241,"y":3290},{"l":"LV20","x":306,"y":3199},{"l":"LV20","x":556,"y":3199},
{"l":"LV21","x":-565,"y":3231},{"l":"LV21","x":1,"y":3231},{"l":"LV21","x":91,"y":3245},{"l":"LV21","x":191,"y":3275},{"l":"LV21","x":241,"y":3320},{"l":"LV21","x":306,"y":3231},{"l":"LV21","x":556,"y":3231},
{"l":"LV22","x":-565,"y":3264},{"l":"LV22","x":1,"y":3264},{"l":"LV22","x":91,"y":3278},{"l":"LV22","x":191,"y":3306},{"l":"LV22","x":241,"y":3348},{"l":"LV22","x":306,"y":3264},{"l":"LV22","x":556,"y":3264},
{"l":"LV23","x":-565,"y":3296},{"l":"LV23","x":1,"y":3296},{"l":"LV23","x":91,"y":3312},{"l":"LV23","x":191,"y":3335},{"l":"LV23","x":271,"y":3377},{"l":"LV23","x":309,"y":3296},{"l":"LV23","x":556,"y":3296},

{"l":"RV0","x":-565,"y":2552},{"l":"RV0","x":-287,"y":2552},{"l":"RV0","x":-232,"y":2592},{"l":"RV0","x":-187,"y":2590},{"l":"RV0","x":-127,"y":2582},{"l":"RV0","x":-77,"y":2577},{"l":"RV0","x":-37,"y":2565},{"l":"RV0","x":0,"y":2575},{"l":"RV0","x":58,"y":2567},{"l":"RV0","x":103,"y":2577},{"l":"RV0","x":183,"y":2588},{"l":"RV0","x":243,"y":2595},{"l":"RV0","x":278,"y":2552},{"l":"RV0","x":556,"y":2552},
{"l":"RV1","x":-565,"y":2584},{"l":"RV1","x":-267,"y":2584},{"l":"RV1","x":-192,"y":2645},{"l":"RV1","x":-127,"y":2632},{"l":"RV1","x":-77,"y":2625},{"l":"RV1","x":-37,"y":2618},{"l":"RV1","x":0,"y":2620},{"l":"RV1","x":58,"y":2615},{"l":"RV1","x":103,"y":2620},{"l":"RV1","x":183,"y":2622},{"l":"RV1","x":273,"y":2620},{"l":"RV1","x":308,"y":2584},{"l":"RV1","x":556,"y":2584},
{"l":"RV2","x":-565,"y":2616},{"l":"RV2","x":-247,"y":2616},{"l":"RV2","x":-187,"y":2652},{"l":"RV2","x":-127,"y":2660},{"l":"RV2","x":-37,"y":2653},{"l":"RV2","x":0,"y":2660},{"l":"RV2","x":58,"y":2648},{"l":"RV2","x":123,"y":2660},{"l":"RV2","x":183,"y":2652},{"l":"RV2","x":278,"y":2672},{"l":"RV2","x":338,"y":2616},{"l":"RV2","x":556,"y":2616},
{"l":"RV3","x":-565,"y":2648},{"l":"RV3","x":-217,"y":2648},{"l":"RV3","x":-167,"y":2670},{"l":"RV3","x":-77,"y":2680},{"l":"RV3","x":0,"y":2685},{"l":"RV3","x":58,"y":2675},{"l":"RV3","x":123,"y":2690},{"l":"RV3","x":183,"y":2685},{"l":"RV3","x":308,"y":2708},{"l":"RV3","x":338,"y":2648},{"l":"RV3","x":556,"y":2648},
{"l":"RV4","x":-565,"y":2680},{"l":"RV4","x":-197,"y":2680},{"l":"RV4","x":-167,"y":2705},{"l":"RV4","x":-97,"y":2710},{"l":"RV4","x":0,"y":2720},{"l":"RV4","x":58,"y":2705},{"l":"RV4","x":123,"y":2715},{"l":"RV4","x":203,"y":2725},{"l":"RV4","x":313,"y":2735},{"l":"RV4","x":368,"y":2680},{"l":"RV4","x":556,"y":2680},
{"l":"RV5","x":-565,"y":2712},{"l":"RV5","x":-197,"y":2712},{"l":"RV5","x":-157,"y":2735},{"l":"RV5","x":-77,"y":2740},{"l":"RV5","x":0,"y":2750},{"l":"RV5","x":58,"y":2738},{"l":"RV5","x":123,"y":2750},{"l":"RV5","x":203,"y":2760},{"l":"RV5","x":313,"y":2775},{"l":"RV5","x":368,"y":2712},{"l":"RV5","x":556,"y":2712},
{"l":"RV6","x":-565,"y":2743},{"l":"RV6","x":-197,"y":2743},{"l":"RV6","x":-167,"y":2765},{"l":"RV6","x":-77,"y":2772},{"l":"RV6","x":0,"y":2782},{"l":"RV6","x":58,"y":2767},{"l":"RV6","x":123,"y":2782},{"l":"RV6","x":203,"y":2790},{"l":"RV6","x":308,"y":2810},{"l":"RV6","x":363,"y":2743},{"l":"RV6","x":556,"y":2743},
{"l":"RV7","x":-565,"y":2775},{"l":"RV7","x":-187,"y":2775},{"l":"RV7","x":-157,"y":2795},{"l":"RV7","x":-77,"y":2802},{"l":"RV7","x":0,"y":2815},{"l":"RV7","x":58,"y":2800},{"l":"RV7","x":123,"y":2812},{"l":"RV7","x":203,"y":2822},{"l":"RV7","x":303,"y":2845},{"l":"RV7","x":358,"y":2775},{"l":"RV7","x":556,"y":2775},
{"l":"RV8","x":-565,"y":2807},{"l":"RV8","x":-217,"y":2807},{"l":"RV8","x":-187,"y":2830},{"l":"RV8","x":-77,"y":2835},{"l":"RV8","x":0,"y":2845},{"l":"RV8","x":58,"y":2835},{"l":"RV8","x":123,"y":2845},{"l":"RV8","x":203,"y":2855},{"l":"RV8","x":283,"y":2872},{"l":"RV8","x":343,"y":2807},{"l":"RV8","x":556,"y":2807},
{"l":"RV9","x":-565,"y":2839},{"l":"RV9","x":-217,"y":2839},{"l":"RV9","x":-187,"y":2862},{"l":"RV9","x":-77,"y":2865},{"l":"RV9","x":0,"y":2875},{"l":"RV9","x":58,"y":2865},{"l":"RV9","x":123,"y":2875},{"l":"RV9","x":203,"y":2885},{"l":"RV9","x":263,"y":2905},{"l":"RV9","x":333,"y":2839},{"l":"RV9","x":556,"y":2839},
{"l":"RV10","x":-565,"y":2871},{"l":"RV10","x":-242,"y":2871},{"l":"RV10","x":-192,"y":2898},{"l":"RV10","x":-77,"y":2892},{"l":"RV10","x":0,"y":2900},{"l":"RV10","x":58,"y":2895},{"l":"RV10","x":123,"y":2905},{"l":"RV10","x":203,"y":2920},{"l":"RV10","x":243,"y":2940},{"l":"RV10","x":318,"y":2871},{"l":"RV10","x":556,"y":2871},
{"l":"RV11","x":-565,"y":2903},{"l":"RV11","x":-237,"y":2903},{"l":"RV11","x":-222,"y":2925},{"l":"RV11","x":-147,"y":2930},{"l":"RV11","x":-77,"y":2925},{"l":"RV11","x":0,"y":2930},{"l":"RV11","x":58,"y":2925},{"l":"RV11","x":123,"y":2935},{"l":"RV11","x":203,"y":2950},{"l":"RV11","x":243,"y":2965},{"l":"RV11","x":298,"y":2903},{"l":"RV11","x":556,"y":2903},
{"l":"RV12","x":-565,"y":2935},{"l":"RV12","x":-297,"y":2935},{"l":"RV12","x":-222,"y":2975},{"l":"RV12","x":-147,"y":2970},{"l":"RV12","x":-77,"y":2960},{"l":"RV12","x":0,"y":2960},{"l":"RV12","x":58,"y":2960},{"l":"RV12","x":123,"y":2970},{"l":"RV12","x":203,"y":2982},{"l":"RV12","x":243,"y":2978},{"l":"RV12","x":273,"y":2935},{"l":"RV12","x":556,"y":2935},
{"l":"RV13","x":-565,"y":2967},{"l":"RV13","x":-307,"y":2967},{"l":"RV13","x":-252,"y":3010},{"l":"RV13","x":-177,"y":3005},{"l":"RV13","x":-77,"y":2995},{"l":"RV13","x":0,"y":2990},{"l":"RV13","x":58,"y":2995},{"l":"RV13","x":123,"y":3005},{"l":"RV13","x":213,"y":3010},{"l":"RV13","x":248,"y":2967},{"l":"RV13","x":556,"y":2967},
{"l":"RV14","x":-565,"y":2999},{"l":"RV14","x":-347,"y":2999},{"l":"RV14","x":-287,"y":3045},{"l":"RV14","x":-197,"y":3035},{"l":"RV14","x":-97,"y":3025},{"l":"RV14","x":0,"y":3020},{"l":"RV14","x":58,"y":3025},{"l":"RV14","x":123,"y":3030},{"l":"RV14","x":183,"y":3020},{"l":"RV14","x":213,"y":3005},{"l":"RV14","x":233,"y":2999},{"l":"RV14","x":556,"y":2999},
{"l":"RV15","x":-565,"y":3031},{"l":"RV15","x":-347,"y":3031},{"l":"RV15","x":-317,"y":3118},{"l":"RV15","x":-247,"y":3102},{"l":"RV15","x":-147,"y":3092},{"l":"RV15","x":-77,"y":3088},{"l":"RV15","x":-37,"y":3080},{"l":"RV15","x":0,"y":3082},{"l":"RV15","x":58,"y":3075},{"l":"RV15","x":123,"y":3065},{"l":"RV15","x":183,"y":3050},{"l":"RV15","x":233,"y":3031},{"l":"RV15","x":556,"y":3031},
{"l":"RV16","x":-565,"y":3062},{"l":"RV16","x":-342,"y":3062},{"l":"RV16","x":-317,"y":3155},{"l":"RV16","x":-247,"y":3140},{"l":"RV16","x":-147,"y":3125},{"l":"RV16","x":-77,"y":3120},{"l":"RV16","x":0,"y":3115},{"l":"RV16","x":58,"y":3110},{"l":"RV16","x":123,"y":3100},{"l":"RV16","x":183,"y":3085},{"l":"RV16","x":243,"y":3062},{"l":"RV16","x":556,"y":3062},
{"l":"RV17","x":-565,"y":3094},{"l":"RV17","x":-342,"y":3094},{"l":"RV17","x":-317,"y":3190},{"l":"RV17","x":-247,"y":3170},{"l":"RV17","x":-147,"y":3160},{"l":"RV17","x":-97,"y":3165},{"l":"RV17","x":-57,"y":3155},{"l":"RV17","x":0,"y":3150},{"l":"RV17","x":58,"y":3142},{"l":"RV17","x":123,"y":3135},{"l":"RV17","x":183,"y":3120},{"l":"RV17","x":243,"y":3094},{"l":"RV17","x":556,"y":3094},
{"l":"RV18","x":-565,"y":3126},{"l":"RV18","x":-347,"y":3126},{"l":"RV18","x":-317,"y":3220},{"l":"RV18","x":-247,"y":3210},{"l":"RV18","x":-147,"y":3198},{"l":"RV18","x":-77,"y":3190},{"l":"RV18","x":-37,"y":3180},{"l":"RV18","x":0,"y":3185},{"l":"RV18","x":58,"y":3175},{"l":"RV18","x":123,"y":3170},{"l":"RV18","x":203,"y":3150},{"l":"RV18","x":243,"y":3126},{"l":"RV18","x":556,"y":3126},
{"l":"RV19","x":-565,"y":3158},{"l":"RV19","x":-347,"y":3158},{"l":"RV19","x":-317,"y":3255},{"l":"RV19","x":-247,"y":3240},{"l":"RV19","x":-147,"y":3230},{"l":"RV19","x":-77,"y":3220},{"l":"RV19","x":-37,"y":3210},{"l":"RV19","x":0,"y":3215},{"l":"RV19","x":58,"y":3210},{"l":"RV19","x":123,"y":3200},{"l":"RV19","x":203,"y":3180},{"l":"RV19","x":243,"y":3158},{"l":"RV19","x":556,"y":3158},
{"l":"RV20","x":-565,"y":3190},{"l":"RV20","x":-347,"y":3190},{"l":"RV20","x":-322,"y":3258},{"l":"RV20","x":-267,"y":3250},{"l":"RV20","x":-177,"y":3242},{"l":"RV20","x":-97,"y":3235},{"l":"RV20","x":-37,"y":3225},{"l":"RV20","x":0,"y":3230},{"l":"RV20","x":58,"y":3220},{"l":"RV20","x":123,"y":3215},{"l":"RV20","x":193,"y":3210},{"l":"RV20","x":223,"y":3190},{"l":"RV20","x":556,"y":3190},
{"l":"RV21","x":-565,"y":3222},{"l":"RV21","x":-347,"y":3222},{"l":"RV21","x":-297,"y":3290},{"l":"RV21","x":-217,"y":3280},{"l":"RV21","x":-137,"y":3272},{"l":"RV21","x":-57,"y":3262},{"l":"RV21","x":0,"y":3265},{"l":"RV21","x":58,"y":3255},{"l":"RV21","x":123,"y":3250},{"l":"RV21","x":203,"y":3240},{"l":"RV21","x":243,"y":3222},{"l":"RV21","x":556,"y":3222},
{"l":"RV22","x":-565,"y":3254},{"l":"RV22","x":-347,"y":3254},{"l":"RV22","x":-282,"y":3305},{"l":"RV22","x":-197,"y":3298},{"l":"RV22","x":-117,"y":3290},{"l":"RV22","x":-57,"y":3282},{"l":"RV22","x":0,"y":3285},{"l":"RV22","x":58,"y":3278},{"l":"RV22","x":123,"y":3280},{"l":"RV22","x":193,"y":3275},{"l":"RV22","x":243,"y":3254},{"l":"RV22","x":556,"y":3254},
{"l":"RV23","x":-565,"y":3286},{"l":"RV23","x":-337,"y":3286},{"l":"RV23","x":-252,"y":3330},{"l":"RV23","x":-177,"y":3325},{"l":"RV23","x":-97,"y":3320},{"l":"RV23","x":-37,"y":3310},{"l":"RV23","x":0,"y":3315},{"l":"RV23","x":58,"y":3310},{"l":"RV23","x":123,"y":3315},{"l":"RV23","x":213,"y":3320},{"l":"RV23","x":243,"y":3286},{"l":"RV23","x":556,"y":3286}
]},
"hconcat":[
{"width":373,"height":1166,
"layer":[
{"data":{"name":"prof"},"transform":[{"filter":"indexof(datum.l,'L')==0"}],
"mark":{"type":"line","stroke":"black","strokeWidth":1,"clip":false},
"encoding":{"x":{"field":"x","type":"quantitative","scale":{"domain":[-567,552],"nice":false,"zero":false},"axis":null},
"y":{"field":"y","type":"quantitative","scale":{"domain":[0,3498],"nice":false,"zero":false,"reverse":true},"axis":null},
"detail":{"field":"l","type":"nominal"}}},
{"data":{"name":"zero"},"transform":[{"filter":"datum.c=='L'"}],
"mark":{"type":"rule","stroke":"black","strokeWidth":3},
"encoding":{"x":{"field":"x","type":"quantitative"},"y":{"field":"y","type":"quantitative"},"y2":{"field":"y2"}}},
{"data":{"name":"ticks"},"transform":[{"filter":"datum.c=='L'"}],
"mark":{"type":"text","font":"Liberation Serif","fontSize":28,"baseline":"middle","align":"center","color":"black"},
"encoding":{"x":{"field":"x","type":"quantitative"},"y":{"field":"y","type":"quantitative"},"text":{"field":"t"}}},
{"data":{"name":"stokes"},
"mark":{"type":"text","font":"Liberation Sans","fontWeight":"bold","fontSize":43,"baseline":"middle","align":"center","color":"black"},
"encoding":{"x":{"field":"x","type":"quantitative"},"y":{"field":"y","type":"quantitative"},"text":{"field":"t"}}}
]},
{"width":373,"height":1166,
"layer":[
{"data":{"name":"prof"},"transform":[{"filter":"indexof(datum.l,'R')==0"}],
"mark":{"type":"line","stroke":"black","strokeWidth":1,"clip":false},
"encoding":{"x":{"field":"x","type":"quantitative","scale":{"domain":[-567,552],"nice":false,"zero":false},"axis":null},
"y":{"field":"y","type":"quantitative","scale":{"domain":[0,3498],"nice":false,"zero":false,"reverse":true},"axis":null},
"detail":{"field":"l","type":"nominal"}}},
{"data":{"name":"zero"},"transform":[{"filter":"datum.c=='R'"}],
"mark":{"type":"rule","stroke":"black","strokeWidth":3},
"encoding":{"x":{"field":"x","type":"quantitative"},"y":{"field":"y","type":"quantitative"},"y2":{"field":"y2"}}},
{"data":{"name":"ticks"},"transform":[{"filter":"datum.c=='R'"}],
"mark":{"type":"text","font":"Liberation Serif","fontSize":28,"baseline":"middle","align":"center","color":"black"},
"encoding":{"x":{"field":"x","type":"quantitative"},"y":{"field":"y","type":"quantitative"},"text":{"field":"t"}}}
]}
]
}
